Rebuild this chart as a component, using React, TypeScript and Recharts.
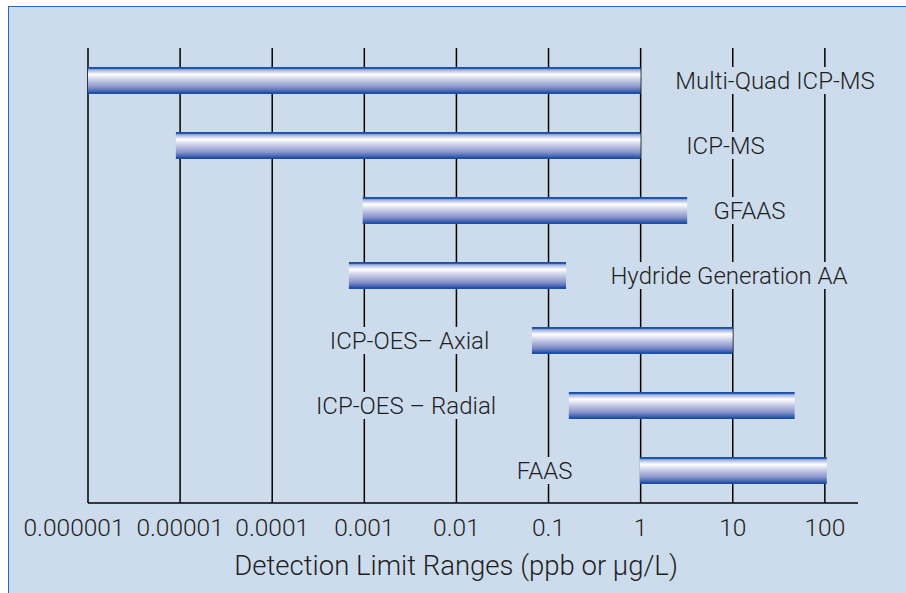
import React from "react";
import {
  BarChart,
  Bar,
  XAxis,
  YAxis,
  CartesianGrid,
  ReferenceDot,
  Label,
} from "recharts";

// ---- data ----
const techniques = [
  "Multi-Quad ICP-MS",
  "ICP-MS",
  "GFAAS",
  "Hydride Generation AA",
  "ICP-OES– Axial",
  "ICP-OES – Radial",
  "FAAS",
];
const rangeLow = [0.000001, 0.000009, 0.00096, 0.00068, 0.066, 0.166, 0.98];
const rangeHigh = [1.0, 1.0, 3.2, 0.155, 10, 47, 105];
// label anchor (center) in data units (ppb)
const labelAt = [28.8, 8.35, 15.2, 9.1, 0.0031, 0.00284, 0.0906];

const tickValues = [0.000001, 0.00001, 0.0001, 0.001, 0.01, 0.1, 1, 10, 100];
const tickLabels = [
  "0.000001",
  "0.00001",
  "0.0001",
  "0.001",
  "0.01",
  "0.1",
  "1",
  "10",
  "100",
];
const axisTitle = "Detection Limit Ranges (ppb or µg/L)";
const xDomain: [number, number] = [0.000001, 229];

const data = techniques.map((name, i) => ({
  name,
  range: [rangeLow[i], rangeHigh[i]],
}));

// ---- style ----
const BG = "#cddcec";
const BORDER = "#1f6bc5";
const TEXT = "#1e1e1e";
const FONT = "Roboto, 'Noto Sans', sans-serif";
const WEIGHT = 300;

const LabelShape = (text: string) => (props: any) => {
  const { cx, cy } = props;
  const fs = 24;
  const w = text.length * fs * 0.53 + 8;
  const h = 27;
  return (
    <g>
      <rect x={cx - w / 2} y={cy - h / 2} width={w} height={h} fill={BG} />
      <text
        x={cx}
        y={cy + fs * 0.36}
        textAnchor="middle"
        fontSize={fs}
        fontFamily={FONT}
        fontWeight={WEIGHT}
        fill={TEXT}
      >
        {text}
      </text>
    </g>
  );
};

const Tick = (props: any) => {
  const { x, y, index } = props;
  const dx = index === 0 ? -14 : 0;
  return (
    <text
      x={x + dx}
      y={y + 33}
      textAnchor="middle"
      fontSize={24.5}
      fontFamily={FONT}
      fontWeight={WEIGHT}
      fill={TEXT}
    >
      {tickLabels[index]}
    </text>
  );
};

const TitleLabel = (props: any) => {
  const { viewBox } = props;
  const x = viewBox.x + viewBox.width * 0.478;
  const y = viewBox.y + 72;
  return (
    <text
      x={x}
      y={y}
      textAnchor="middle"
      fontSize={27.5}
      fontFamily={FONT}
      fontWeight={WEIGHT}
      fill={TEXT}
    >
      {axisTitle}
    </text>
  );
};

// grid lines only at the decade ticks
const gridXs = (args: any) => {
  const s = args?.xAxis?.scale;
  const out: number[] = [];
  for (const v of tickValues) {
    let p: any = undefined;
    try {
      if (typeof s === "function") p = s(v);
      else if (s && typeof s.map === "function") p = s.map(v);
      else if (s && typeof s.apply === "function") p = s.apply(v);
    } catch (e) {
      p = undefined;
    }
    if (typeof p !== "number" || !isFinite(p)) {
      const off = args?.offset;
      const l0 = Math.log10(xDomain[0]);
      const l1 = Math.log10(xDomain[1]);
      p = off.left + ((Math.log10(v) - l0) / (l1 - l0)) * off.width;
    }
    out.push(p);
  }
  return out;
};

export default function App() {
  return (
    <div
      style={{
        position: "absolute",
        left: 8,
        top: 6,
        width: 897,
        height: 586,
        background: BG,
        borderTop: `1px solid ${BORDER}`,
        borderLeft: `1px solid ${BORDER}`,
      }}
    >
      <svg width={0} height={0} style={{ position: "absolute" }}>
        <defs>
          <linearGradient id="barGrad" x1="0" y1="0" x2="0" y2="1">
            <stop offset="0" stopColor="#1a50a6" />
            <stop offset="0.05" stopColor="#1a50a6" />
            <stop offset="0.1" stopColor="#9eaedc" />
            <stop offset="0.27" stopColor="#ffffff" />
            <stop offset="0.5" stopColor="#c3c8e6" />
            <stop offset="0.75" stopColor="#8893cb" />
            <stop offset="0.92" stopColor="#3c5cb0" />
            <stop offset="0.95" stopColor="#1a50a6" />
            <stop offset="1" stopColor="#1a50a6" />
          </linearGradient>
        </defs>
      </svg>
      <BarChart
        width={897}
        height={586}
        data={data}
        layout="vertical"
        margin={{ top: 41, right: 48, left: 79, bottom: 0 }}
        barCategoryGap={0}
      >
        <CartesianGrid
          horizontal={false}
          vertical={true}
          stroke="#000"
          strokeWidth={1.5}
          verticalCoordinatesGenerator={gridXs}
        />
        <XAxis
          type="number"
          scale="log"
          domain={xDomain}
          ticks={tickValues}
          allowDataOverflow
          height={90}
          axisLine={{ stroke: "#000", strokeWidth: 1.5 }}
          tickLine={false}
          tickSize={0}
          tickMargin={0}
          tick={<Tick />}
          interval={0}
        >
          <Label content={<TitleLabel />} position="bottom" />
        </XAxis>
        <YAxis type="category" dataKey="name" hide width={0} />
        <Bar
          dataKey="range"
          fill="url(#barGrad)"
          barSize={27}
          isAnimationActive={false}
        />
        {techniques.map((t, i) => (
          <ReferenceDot
            key={t}
            x={labelAt[i]}
            y={t}
            r={0}
            ifOverflow="visible"
            shape={LabelShape(t)}
          />
        ))}
      </BarChart>
    </div>
  );
}
